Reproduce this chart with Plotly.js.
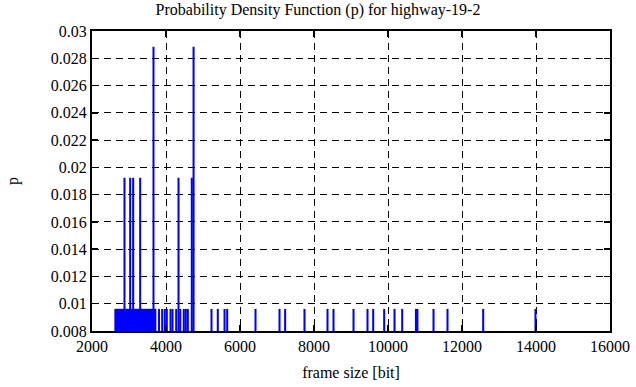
<!DOCTYPE html>
<html>
<head>
<meta charset="utf-8">
<script src="https://cdn.plot.ly/plotly-3.0.1.min.js"></script>
<style>html,body{margin:0;padding:0;background:#fff;}#chart{width:636px;height:387px;}</style>
</head>
<body>
<div id="chart"></div>
<script>
// frame sizes [bit] and their probability p (count / 104)
var frameSize = [
  2632, 2651, 2668, 2690, 2709, 2727, 2745, 2766, 2784, 2803,
  2822, 2840, 2861, 2878, 2900, 2921, 2940, 2958, 2979, 2998,
  3013, 3032, 3052, 3071, 3083, 3095, 3113, 3135, 3152, 3170,
  3191, 3210, 3229, 3247, 3266, 3284, 3302, 3320, 3339, 3358,
  3377, 3396, 3414, 3433, 3452, 3470, 3489, 3508, 3527, 3545,
  3564, 3583, 3602, 3621, 3640, 3662, 3681, 3698, 3712,
  3811, 3897, 3968, 4022, 4122, 4176, 4276, 4338, 4385, 4481,
  4535, 4590, 4697, 4745, 5230, 5400, 5582, 5654, 6419, 7068,
  7220, 7743, 8365, 8527, 9068, 9446, 9600, 9897, 10176, 10384,
  10755, 10795, 11230, 11608, 12573, 13986
];
var p = [
  0.00962, 0.00962, 0.00962, 0.00962, 0.00962, 0.00962, 0.00962, 0.00962, 0.00962, 0.00962,
  0.00962, 0.00962, 0.00962, 0.01923, 0.00962, 0.00962, 0.00962, 0.00962, 0.00962, 0.00962,
  0.00962, 0.01923, 0.00962, 0.00962, 0.00962, 0.00962, 0.01923, 0.00962, 0.00962, 0.00962,
  0.00962, 0.00962, 0.00962, 0.00962, 0.00962, 0.00962, 0.01923, 0.00962, 0.00962, 0.00962,
  0.00962, 0.00962, 0.00962, 0.00962, 0.00962, 0.00962, 0.00962, 0.00962, 0.00962, 0.00962,
  0.00962, 0.00962, 0.00962, 0.00962, 0.00962, 0.02885, 0.00962, 0.00962, 0.00962,
  0.00962, 0.00962, 0.00962, 0.00962, 0.00962, 0.00962, 0.00962, 0.01923, 0.00962, 0.00962,
  0.00962, 0.00962, 0.01923, 0.02885, 0.00962, 0.00962, 0.00962, 0.00962, 0.00962, 0.00962,
  0.00962, 0.00962, 0.00962, 0.00962, 0.00962, 0.00962, 0.00962, 0.00962, 0.00962, 0.00962,
  0.00962, 0.00962, 0.00962, 0.00962, 0.00962, 0.00962
];
var chartTitle = "Probability Density Function (p) for highway-19-2";
var xLabel = "frame size [bit]";
var yLabel = "p";

var font = {family: "Liberation Serif", size: 16, color: "#000"};

var trace = {
  type: "bar",
  x: frameSize,
  y: p,
  width: 55,
  marker: {color: "#0000ff", line: {width: 0}},
  hoverinfo: "x+y"
};

var axisCommon = {
  showline: true, linecolor: "#000", linewidth: 2, mirror: "ticks",
  ticks: "inside", ticklen: 6, tickwidth: 1.5, tickcolor: "#000",
  showgrid: true, gridcolor: "#000", gridwidth: 1, griddash: "7px,5px",
  zeroline: false, tickfont: font
};

var layout = {
  width: 636, height: 387,
  margin: {l: 92, r: 26, t: 31, b: 56, pad: 0},
  paper_bgcolor: "#fff", plot_bgcolor: "#fff",
  font: font,
  showlegend: false,
  barmode: "overlay",
  title: {text: chartTitle, font: font, x: 0.5, xref: "container", y: 0.975, yanchor: "middle"},
  xaxis: Object.assign({}, axisCommon, {
    range: [2000, 16000], dtick: 2000, tick0: 2000, tickformat: "d",
    title: {text: xLabel, font: font, standoff: 13}
  }),
  yaxis: Object.assign({}, axisCommon, {
    range: [0.008, 0.03], dtick: 0.002, tick0: 0.008,
    title: {text: yLabel, font: font, standoff: 28}
  })
};

Plotly.newPlot("chart", [trace], layout, {displayModeBar: false, staticPlot: true});
</script>
</body>
</html>
